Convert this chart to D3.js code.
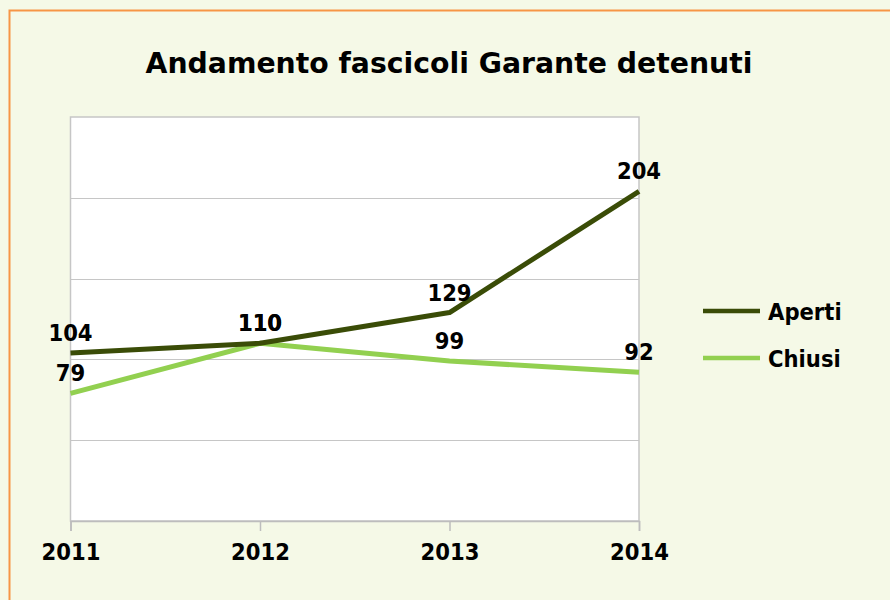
<!DOCTYPE html>
<html>
<head>
<meta charset="utf-8">
<script src="https://cdn.jsdelivr.net/npm/d3@7"></script>
<style>
  html, body { margin: 0; padding: 0; background: #f5f9e7; }
  svg { display: block; }
  text { font-family: "DejaVu Sans", Verdana, sans-serif; font-weight: bold; fill: #000; }
</style>
</head>
<body>
<svg id="chart" width="890" height="600"></svg>
<script>
// ---------------- data ----------------
const years = ["2011", "2012", "2013", "2014"]
const aperti = [104, 110, 129, 204]
const chiusi = [79, 110, 99, 92]
const seriesNames = ["Aperti", "Chiusi"]
const seriesColors = ["#3a4c07", "#92d050"]
const yTicks = [0, 50, 100, 150, 200, 250]

const width = 890, height = 600
const margin = { top: 117, right: 251, bottom: 79, left: 70.5 }

const svg = d3.select("#chart")

// the source font is a bit narrower than DejaVu: squeeze text horizontally
function squeeze(sel, k) {
    sel.each(function () {
        const len = this.getComputedTextLength()
        d3.select(this)
            .attr("textLength", len * k)
            .attr("lengthAdjust", "spacingAndGlyphs")
    })
}

// background + orange frame (only top/left visible)
svg.append("rect")
    .attr("width", width).attr("height", height)
    .attr("fill", "#f5f9e7")
svg.append("rect")
    .attr("x", 9.5).attr("y", 10.5)
    .attr("width", width + 20).attr("height", height + 20)
    .attr("fill", "none")
    .attr("stroke", "#f79646")
    .attr("stroke-width", 2)

// title
svg.append("text")
    .attr("x", 449).attr("y", 73)
    .attr("text-anchor", "middle")
    .attr("font-size", "28px")
    .attr("textLength", 607)
    .attr("lengthAdjust", "spacingAndGlyphs")
    .text("Andamento fascicoli Garante detenuti")

let xScale = d3.scalePoint()
    .domain(years)
    .range([margin.left, width - margin.right])

let yScale = d3.scaleLinear()
    .domain([0, 250])
    .range([height - margin.bottom, margin.top])

const x0 = margin.left, x1 = width - margin.right
const yb = height - margin.bottom, yt = margin.top

// plot area
svg.append("rect")
    .attr("x", x0).attr("y", yt)
    .attr("width", x1 - x0).attr("height", yb - yt)
    .attr("fill", "#ffffff")
    .attr("stroke", "#c6c6c6")
    .attr("stroke-width", 1.5)

// gridlines
svg.selectAll(".grid")
    .data(yTicks.slice(1, -1))
    .enter()
    .append("line")
    .attr("class", "grid")
    .attr("x1", x0).attr("x2", x1)
    .attr("y1", d => Math.round(yScale(d)) + 0.5)
    .attr("y2", d => Math.round(yScale(d)) + 0.5)
    .attr("stroke", "#c6c6c6")
    .attr("stroke-width", 1)

// x axis
const xAxis = svg.append("g")
    .attr("class", "x axis")
    .attr("transform", "translate(0," + yb + ")")
    .call(d3.axisBottom(xScale).tickSize(10).tickPadding(13))
xAxis.select(".domain").attr("stroke", "#bdbdbd").attr("stroke-width", 1.5)
xAxis.selectAll(".tick line").attr("stroke", "#bdbdbd").attr("stroke-width", 1.5)
xAxis.selectAll(".tick text")
    .attr("font-size", "23px")
    .attr("font-family", "DejaVu Sans, Verdana, sans-serif")
    .attr("font-weight", "bold")
    .attr("fill", "#000")
    .call(squeeze, 0.92)

// lines
const series = [aperti, chiusi]
let lineGenerator = d3.line()
    .x((d, i) => xScale(years[i]))
    .y(d => yScale(d))
    .curve(d3.curveLinear)

// light line below dark one
svg.selectAll(".serie")
    .data([1, 0])
    .enter()
    .append("path")
    .attr("class", "serie")
    .attr("d", k => lineGenerator(series[k]))
    .attr("fill", "none")
    .attr("stroke", k => seriesColors[k])
    .attr("stroke-width", 5)
    .attr("stroke-linejoin", "round")

// data labels
series.forEach((vals, k) => {
    svg.selectAll(".lbl" + k)
        .data(vals)
        .enter()
        .append("text")
        .attr("class", "lbl" + k)
        .attr("x", (d, i) => xScale(years[i]))
        .attr("y", d => yScale(d) - 12)
        .attr("text-anchor", "middle")
        .attr("font-size", "23px")
        .text(d => d)
        .call(squeeze, 0.92)
})

// legend
const legend = svg.append("g").attr("transform", "translate(703,311)")
seriesNames.forEach((name, k) => {
    legend.append("line")
        .attr("x1", 0).attr("x2", 57)
        .attr("y1", k * 47).attr("y2", k * 47)
        .attr("stroke", seriesColors[k])
        .attr("stroke-width", 4.5)
    legend.append("text")
        .attr("x", 65).attr("y", k * 47 + 9)
        .attr("font-size", "23px")
        .text(name)
        .call(squeeze, 0.92)
})
</script>
</body>
</html>
